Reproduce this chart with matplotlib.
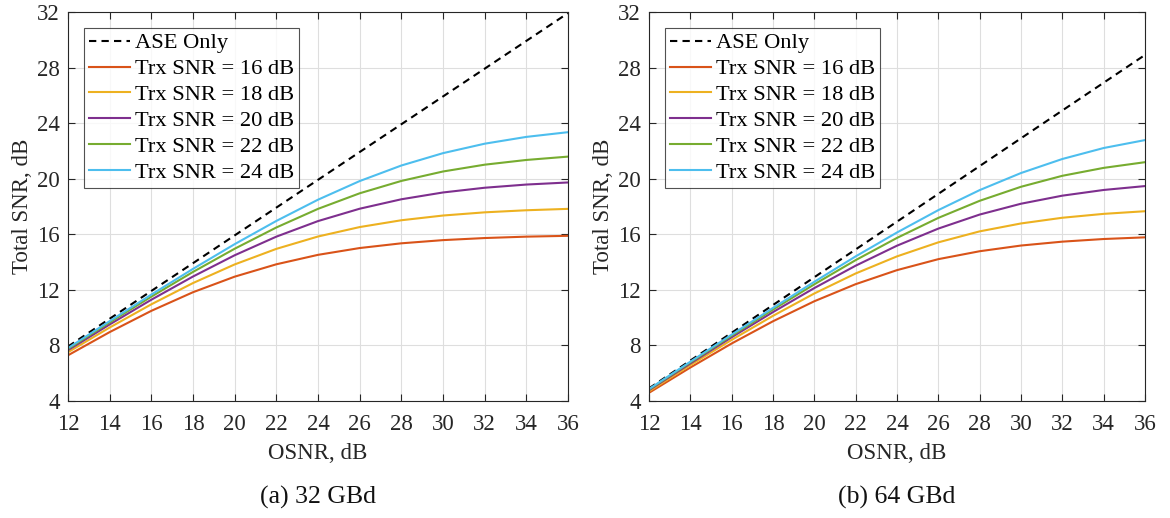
import matplotlib
matplotlib.use("Agg")
import matplotlib.pyplot as plt

plt.rcParams['font.family'] = ['Liberation Serif', 'DejaVu Serif']

osnr = [12, 14, 16, 18, 20, 22, 24, 26, 28, 30, 32, 34, 36]
trx_labels = ['Trx SNR = 16 dB', 'Trx SNR = 18 dB', 'Trx SNR = 20 dB',
              'Trx SNR = 22 dB', 'Trx SNR = 24 dB']
colors = ['#D95319', '#EDB120', '#7E2F8E', '#77AC30', '#4DBEEE']

# 32 GBd
ase_32 = [7.92, 9.92, 11.92, 13.92, 15.92, 17.92, 19.92, 21.92, 23.92, 25.92, 27.92, 29.92, 31.92]
trx16_32 = [7.29, 8.96, 10.49, 11.83, 12.95, 13.84, 14.52, 15.01, 15.35, 15.58, 15.73, 15.83, 15.89]
trx18_32 = [7.51, 9.29, 10.96, 12.49, 13.83, 14.95, 15.84, 16.52, 17.01, 17.35, 17.58, 17.73, 17.83]
trx20_32 = [7.66, 9.51, 11.29, 12.96, 14.49, 15.83, 16.95, 17.84, 18.52, 19.01, 19.35, 19.58, 19.73]
trx22_32 = [7.75, 9.66, 11.51, 13.29, 14.96, 16.49, 17.83, 18.95, 19.84, 20.52, 21.01, 21.35, 21.59]
trx24_32 = [7.81, 9.75, 11.66, 13.51, 15.29, 16.96, 18.49, 19.83, 20.95, 21.84, 22.52, 23.01, 23.35]

# 64 GBd
ase_64 = [4.91, 6.91, 8.91, 10.91, 12.91, 14.91, 16.91, 18.91, 20.91, 22.91, 24.91, 26.91, 28.91]
trx16_64 = [4.59, 6.41, 8.14, 9.74, 11.18, 12.41, 13.42, 14.21, 14.78, 15.19, 15.47, 15.66, 15.78]
trx18_64 = [4.70, 6.58, 8.40, 10.13, 11.74, 13.18, 14.41, 15.42, 16.21, 16.78, 17.19, 17.47, 17.66]
trx20_64 = [4.78, 6.70, 8.59, 10.40, 12.13, 13.74, 15.18, 16.41, 17.42, 18.20, 18.78, 19.19, 19.47]
trx22_64 = [4.83, 6.78, 8.70, 10.58, 12.40, 14.14, 15.74, 17.18, 18.41, 19.42, 20.21, 20.78, 21.19]
trx24_64 = [4.86, 6.83, 8.78, 10.70, 12.58, 14.41, 16.13, 17.74, 19.18, 20.41, 21.42, 22.21, 22.78]

panels = [
    (ase_32, [trx16_32, trx18_32, trx20_32, trx22_32, trx24_32], '(a) 32 GBd'),
    (ase_64, [trx16_64, trx18_64, trx20_64, trx22_64, trx24_64], '(b) 64 GBd'),
]

fig = plt.figure(figsize=(11.7, 5.18), dpi=100)
W, H = 1170.0, 518.0
boxes = [(68, 12, 568, 401), (649, 12, 1145, 401)]
fs = 16.5

for (ase, trxs, caption), (x0, y0, x1, y1) in zip(panels, boxes):
    ax = fig.add_axes([x0 / W, 1 - y1 / H, (x1 - x0) / W, (y1 - y0) / H])
    ax.plot(osnr, ase, color='black', linestyle=(0, (3.5, 2.5)), linewidth=1.5, label='ASE Only')
    for vals, c, lab in zip(trxs, colors, trx_labels):
        ax.plot(osnr, vals, color=c, linewidth=1.5, label=lab)
    ax.set_xlim(12, 36)
    ax.set_ylim(4, 32)
    ax.set_xticks(range(12, 37, 2))
    ax.set_yticks(range(4, 33, 4))
    ax.grid(True, color='#dedede', linewidth=0.8)
    ax.set_axisbelow(True)
    ax.tick_params(direction='in', top=True, right=True, labelsize=fs,
                   length=5, width=0.8, colors='#262626')
    ax.tick_params(axis='x', pad=9)
    ax.tick_params(axis='y', pad=6)
    for s in ax.spines.values():
        s.set_color('#262626')
        s.set_linewidth(0.8)
    ax.set_xlabel('OSNR, dB', fontsize=fs, color='#262626', labelpad=6)
    ax.set_ylabel('Total SNR, dB', fontsize=fs, color='#262626', labelpad=3)
    leg = ax.legend(loc='upper left', fontsize=16.2, frameon=True, fancybox=False,
                    edgecolor='#262626', handlelength=1.85, handletextpad=0.22,
                    labelspacing=0.23, borderpad=0.2, borderaxespad=0.72,
                    bbox_to_anchor=(0.0, 1.0))
    leg.get_frame().set_linewidth(0.8)
    fig.text((x0 + x1) / 2 / W, 1 - 497 / H, caption, ha='center', va='center',
             fontsize=18.5, color='#111111')

fig.savefig('out.png', dpi=100)
